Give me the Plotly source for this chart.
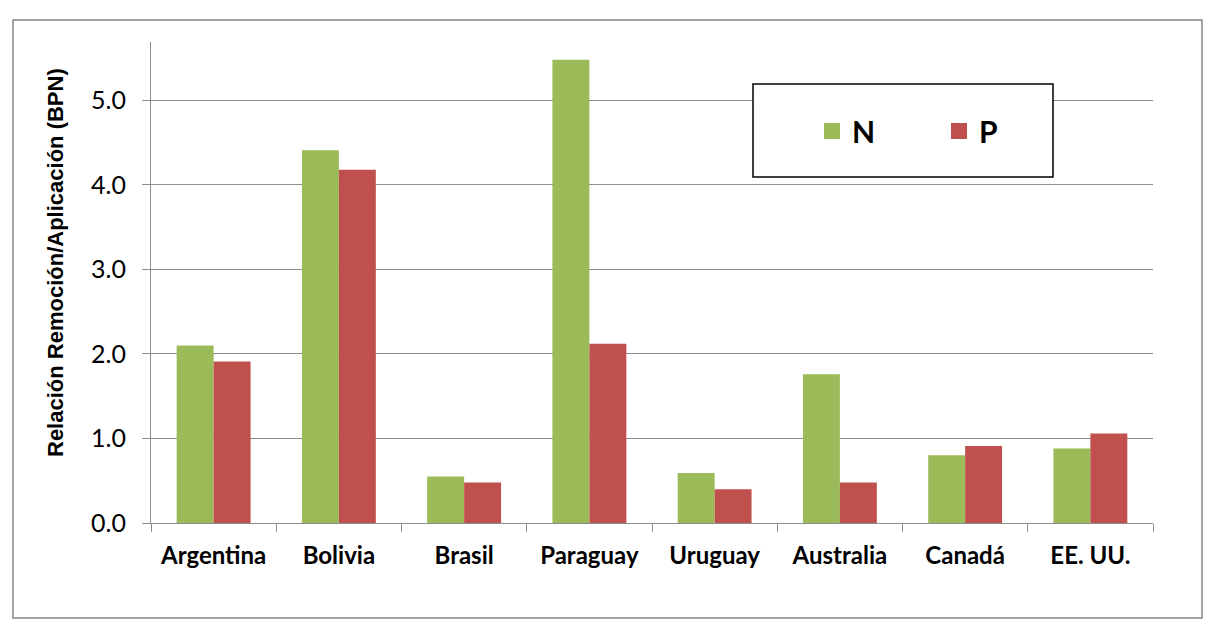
import plotly.graph_objects as go

categories = ["Argentina", "Bolivia", "Brasil", "Paraguay", "Uruguay", "Australia", "Canadá", "EE. UU."]
n_values = [2.10, 4.41, 0.55, 5.48, 0.59, 1.76, 0.80, 0.88]
p_values = [1.91, 4.18, 0.48, 2.12, 0.40, 0.48, 0.91, 1.06]
y_ticks = [0, 1, 2, 3, 4, 5]
y_tick_labels = ["0.0", "1.0", "2.0", "3.0", "4.0", "5.0"]
y_title = "Relación Remoción/Aplicación (BPN)"

GREEN = "#9BBB59"
RED = "#C0504D"
GRID = "#8C8C8C"
FONT = "Lato"

# page body has an 8px margin; work in page pixels and convert
OFF = 8
W, H = 1219 - OFF, 642 - OFF
L, T = 151 - OFF, 42 - OFF
R = W - (1153 - OFF)
B = H - (523 - OFF)
pw, ph = W - L - R, H - T - B

def px2x(px):
    return (px - OFF - L) / pw

def px2y(py):
    return (H - B - (py - OFF)) / ph

fig = go.Figure()
fig.add_trace(go.Bar(name="N", x=categories, y=n_values, legendgroup="N", showlegend=False,
                     marker=dict(color=GREEN, line=dict(width=0))))
fig.add_trace(go.Bar(name="P", x=categories, y=p_values, legendgroup="P", showlegend=False,
                     marker=dict(color=RED, line=dict(width=0))))
# legend entries with larger square swatches
fig.add_trace(go.Scatter(name="N", x=[None], y=[None], mode="markers", legendgroup="N",
                         marker=dict(symbol="square", size=16, color=GREEN), hoverinfo="skip"))
fig.add_trace(go.Scatter(name="P", x=[None], y=[None], mode="markers", legendgroup="P",
                         marker=dict(symbol="square", size=16, color=RED), hoverinfo="skip"))

fig.update_layout(
    width=W, height=H,
    margin=dict(l=L, r=R, t=T, b=B, autoexpand=False),
    paper_bgcolor="white", plot_bgcolor="white",
    barmode="group", bargap=0.41, bargroupgap=0,
    font=dict(family=FONT, color="black"),
    showlegend=True,
    legend=dict(
        orientation="h",
        x=px2x(812), xanchor="left",
        y=px2y(131), yanchor="middle",
        font=dict(size=30, family=FONT, weight="bold"),
        bgcolor="rgba(0,0,0,0)", borderwidth=0,
        entrywidth=82, entrywidthmode="pixels",
        itemclick=False, itemdoubleclick=False,
    ),
    shapes=[
        dict(type="rect", xref="paper", yref="paper",
             x0=px2x(13), x1=px2x(1202),
             y0=px2y(618), y1=px2y(20),
             line=dict(color="#868686", width=1.5), layer="below"),
        dict(type="rect", xref="paper", yref="paper",
             x0=px2x(753), x1=px2x(1053),
             y0=px2y(177), y1=px2y(84),
             line=dict(color="black", width=1.5), fillcolor="white", layer="above"),
    ],
    annotations=[
        dict(text=y_title, xref="paper", yref="paper",
             x=px2x(55.5), y=px2y(262.5), xanchor="center", yanchor="middle",
             textangle=-90, showarrow=False,
             font=dict(size=22, family="Liberation Sans", weight="bold", color="black")),
    ],
)

fig.update_yaxes(
    range=[0, 5.69],
    tickvals=y_ticks, ticktext=y_tick_labels,
    showgrid=True, gridcolor=GRID, gridwidth=1,
    showline=True, linecolor=GRID, linewidth=1,
    ticks="outside", ticklen=8, tickcolor=GRID,
    tickfont=dict(size=25, family=FONT, color="black"),
    ticklabelstandoff=11,
    zeroline=False,
)
fig.update_xaxes(
    showline=True, linecolor=GRID, linewidth=1,
    ticks="outside", ticklen=8, tickcolor=GRID, tickson="boundaries",
    tickfont=dict(size=24, family=FONT, weight="bold", color="black"),
    ticklabelstandoff=11,
    showgrid=False,
)

fig.write_html("out.html")
